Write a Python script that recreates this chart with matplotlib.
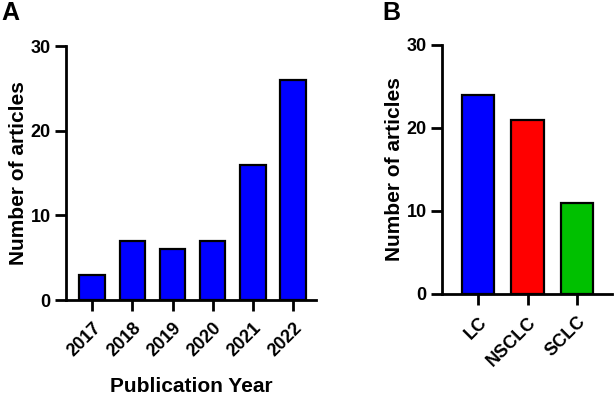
import matplotlib
matplotlib.use("Agg")
import matplotlib.pyplot as plt

years = ["2017", "2018", "2019", "2020", "2021", "2022"]
year_counts = [3, 7, 6, 7, 16, 26]
types = ["LC", "NSCLC", "SCLC"]
type_counts = [24, 21, 11]
type_colors = ["#0000FF", "#FF0000", "#00C000"]

plt.rcParams['font.family'] = ['Liberation Sans', 'DejaVu Sans']
plt.rcParams['font.weight'] = 'bold'

fig = plt.figure(figsize=(6.14, 3.96), dpi=100)
axA = fig.add_axes([0.1075, 0.2424, 0.4072, 0.6414])
axB = fig.add_axes([0.7199, 0.2576, 0.2769, 0.6288])

def style(ax):
    for s in ["top", "right"]:
        ax.spines[s].set_visible(False)
    for s in ["left", "bottom"]:
        ax.spines[s].set_linewidth(2)
    ax.tick_params(axis='both', width=2, length=8, labelsize=13, pad=3)
    ax.tick_params(axis='x', pad=6)
    ax.set_ylim(0, 30)
    ax.set_yticks([0, 10, 20, 30])
    ax.set_ylabel("Number of articles", fontsize=15, fontweight='bold', labelpad=2)
    for lab in ax.get_yticklabels() + ax.get_xticklabels():
        lab.set_fontweight('bold')

axA.bar(range(len(years)), year_counts, width=0.63, color="#0000FF", edgecolor="black", linewidth=1.6)
axA.set_xlim(-0.65, 5.57)
axA.set_xticks(range(len(years)))
axA.set_xticklabels(years, rotation=45, ha='right', rotation_mode='anchor')
style(axA)
axA.set_xlabel("Publication Year", fontsize=15, fontweight='bold', labelpad=12)

axB.bar(range(len(types)), type_counts, width=0.65, color=type_colors, edgecolor="black", linewidth=1.6)
axB.set_xlim(-0.73, 2.71)
axB.set_xticks(range(len(types)))
axB.set_xticklabels(types, rotation=45, ha='right', rotation_mode='anchor')
style(axB)

fig.text(0.003, 0.997, "A", fontsize=18, fontweight='bold', va='top', ha='left')
fig.text(0.623, 0.997, "B", fontsize=18, fontweight='bold', va='top', ha='left')

fig.savefig("out.png", dpi=100)
